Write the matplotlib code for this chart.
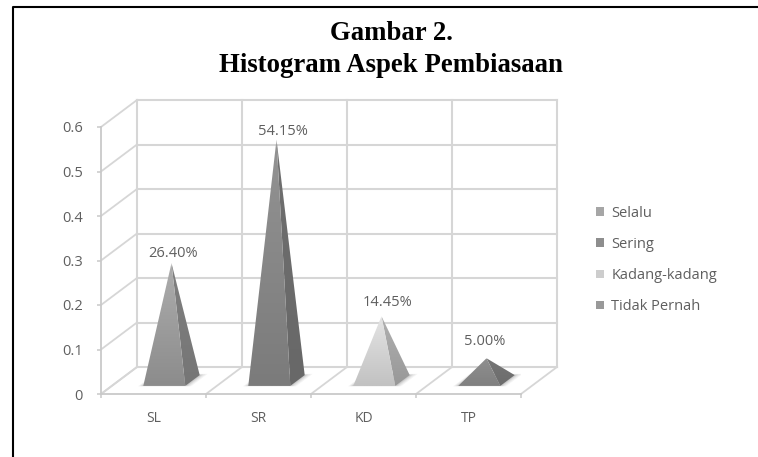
import numpy as np
import matplotlib
matplotlib.use("Agg")
import matplotlib.pyplot as plt
from matplotlib.patches import Polygon, Patch

categories = ["SL", "SR", "KD", "TP"]
values = [0.264, 0.5415, 0.1445, 0.05]
value_labels = ["26.40%", "54.15%", "14.45%", "5.00%"]
y_ticks = [0, 0.1, 0.2, 0.3, 0.4, 0.5, 0.6]
legend_labels = ["Selalu", "Sering", "Kadang-kadang", "Tidak Pernah"]

# front face top/bottom, side face top/bottom, legend swatch
face_colors = [("#adadad", "#8c8c8c"), ("#939393", "#7b7b7b"), ("#e4e4e4", "#c2c2c2"), ("#8f8f8f", "#808080")]
side_colors = [("#7f7f7f", "#767676"), ("#6f6f6f", "#686868"), ("#b0b0b0", "#989898"), ("#767676", "#6c6c6c")]
legend_colors = ["#a6a6a6", "#8e8e8e", "#cdcdcd", "#999999"]

W, H = 758, 457
GRID = "#d6d6d6"
TEXT = "#5f5f5f"

plt.rcParams["font.family"] = ["Open Sans", "DejaVu Sans"]
fig = plt.figure(figsize=(W / 100, H / 100), dpi=100)

# the axes is the front plane of the 3d box
ax = fig.add_axes([101 / W, 1 - 394 / H, 420 / W, 267 / H])
ax.set_xlim(0, 4)
ax.set_ylim(0, 0.6)
ax.patch.set_visible(False)

DX = 36 / 105
DY = 27 / 445


def proj(u, d, v):
    return u + d * DX, v + d * DY


# back wall, side wall and floor lines
for v in y_ticks:
    x0, y0 = proj(0, 1, v)
    x1, y1 = proj(4, 1, v)
    ax.plot([x0, x1], [y0, y1], color=GRID, lw=1.5, clip_on=False, zorder=1)
    ax.plot([0, x0], [v, y0], color=GRID, lw=1.3, clip_on=False, zorder=1)
for u in range(5):
    x0, y0 = proj(u, 1, 0)
    x1, y1 = proj(u, 1, 0.6)
    ax.plot([x0, x1], [y0, y1], color=GRID, lw=1.5, clip_on=False, zorder=1)
    ax.plot([u, x0], [0, y0], color=GRID, lw=1.3, clip_on=False, zorder=1)


def shaded(pts, top, bottom, z):
    pts = np.array(pts)
    poly = Polygon(pts, closed=True, transform=ax.transData, facecolor="none", edgecolor="none")
    ax.add_patch(poly)
    c0 = np.array(matplotlib.colors.to_rgb(bottom))
    c1 = np.array(matplotlib.colors.to_rgb(top))
    grad = np.linspace(0, 1, 64)[:, None, None] * (c1 - c0) + c0
    im = ax.imshow(grad, origin="lower", aspect="auto", zorder=z, interpolation="bilinear",
                   extent=[pts[:, 0].min(), pts[:, 0].max(), pts[:, 1].min(), pts[:, 1].max()])
    im.set_clip_path(poly)


label_offsets = [(2, 10), (6, 8), (6, 14), (-2, 17)]
for i, val in enumerate(values):
    a = i + 0.3
    b = i + 0.7
    fl = proj(a, 0.3, 0)
    fr = proj(b, 0.3, 0)
    br = proj(b, 0.7, 0)
    apex = proj(i + 0.5, 0.5, val)

    # soft shadow on the floor
    for grow, alpha in [(0.3, 0.07), (0.22, 0.09), (0.14, 0.12), (0.07, 0.15)]:
        sa, sb = a - grow * 0.15, b + grow * 0.2
        sh = [proj(sa, 0.3 - grow * 0.05, 0), proj(sb, 0.3 - grow * 0.05, 0),
              proj(sb, 0.7 + grow * 0.15, 0), proj(sa, 0.7 + grow * 0.15, 0)]
        ax.add_patch(Polygon(sh, closed=True, facecolor="#707070", edgecolor="none", alpha=alpha, zorder=2))

    shaded([fr, br, apex], side_colors[i][0], side_colors[i][1], 3)
    shaded([fl, fr, apex], face_colors[i][0], face_colors[i][1], 4)

    ox, oy = label_offsets[i]
    ax.annotate(value_labels[i], apex, xytext=(ox * 0.72, oy * 0.72), textcoords="offset points",
                ha="center", va="center", fontsize=10.5, color=TEXT, zorder=5)

ax.set_xlim(0, 4)
ax.set_ylim(0, 0.6)

for s in ["top", "right"]:
    ax.spines[s].set_visible(False)
for s in ["left", "bottom"]:
    ax.spines[s].set_color("#c9c9c9")
    ax.spines[s].set_linewidth(1.3)

ax.set_yticks(y_ticks)
ax.set_yticklabels([f"{v:g}" for v in y_ticks], fontsize=10.5, color=TEXT)
ax.set_xticks(range(5))
ax.set_xticklabels([])
ax.set_xticks([i + 0.5 for i in range(4)], minor=True)
ax.set_xticklabels(categories, minor=True, fontsize=10, color=TEXT)
ax.tick_params(axis="both", which="major", length=3, width=1.1, color="#c9c9c9")
ax.tick_params(axis="y", pad=10)
ax.tick_params(axis="x", which="minor", length=0, pad=12.5)

handles = [Patch(facecolor=c, edgecolor="none") for c in legend_colors]
fig.legend(handles, legend_labels, loc="upper left", bbox_to_anchor=(596 / W, 1 - 206 / H), frameon=False,
           fontsize=10.5, labelcolor=TEXT, labelspacing=1.1, handlelength=0.55, handleheight=0.55,
           handletextpad=0.5, borderpad=0, borderaxespad=0)

fig.text(391 / W, 1 - 33 / H, "Gambar 2.", family="Liberation Serif", weight="bold", fontsize=19.3,
         ha="center", va="center", color="black")
fig.text(391 / W, 1 - 65 / H, "Histogram Aspek Pembiasaan", family="Liberation Serif", weight="bold", fontsize=19.3,
         ha="center", va="center", color="black")

# page border, only top and left are in the crop
fig.add_artist(plt.Line2D([13 / W, 13 / W, 1], [0, 1 - 6.5 / H, 1 - 6.5 / H], color="black", lw=1.5))

fig.savefig("out.png", dpi=100)
